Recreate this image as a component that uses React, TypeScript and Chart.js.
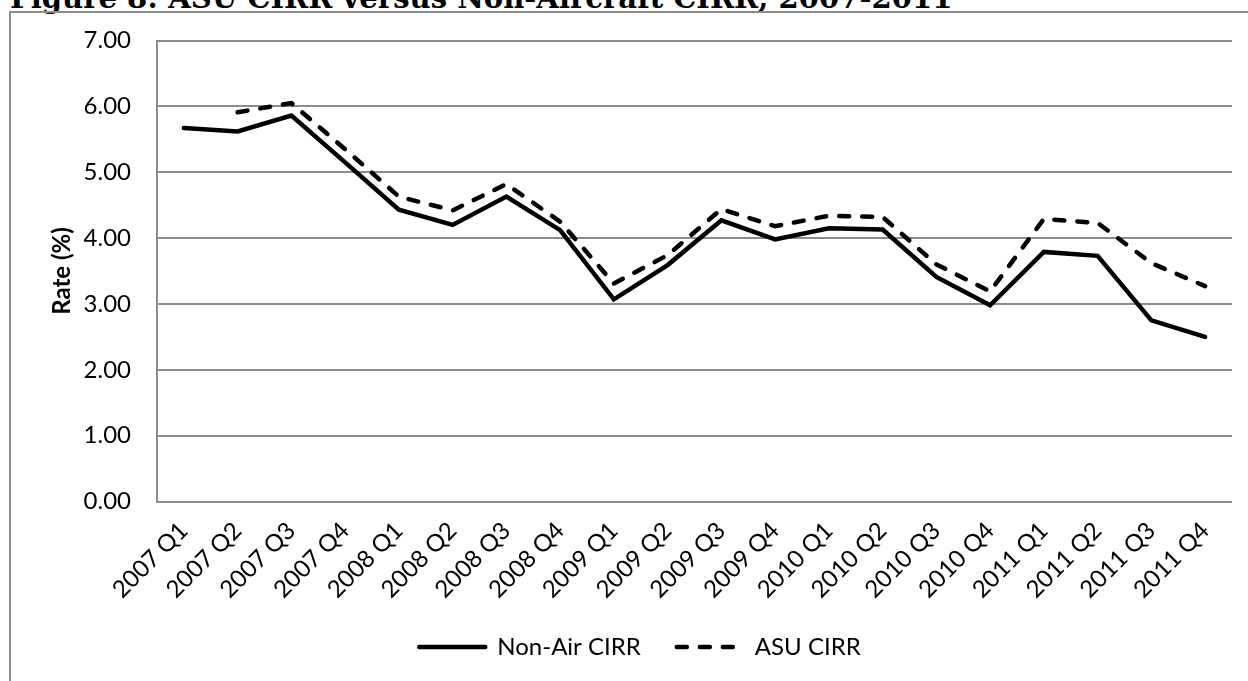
import React, { useEffect, useRef } from 'react';
import { Chart, registerables } from 'chart.js';

Chart.register(...registerables);

const figureTitle = 'Figure 8: ASU CIRR versus Non-Aircraft CIRR, 2007-2011';
const yAxisTitle = 'Rate (%)';
const seriesNames = ['Non-Air CIRR', 'ASU CIRR'];

const categories = [
  '2007 Q1', '2007 Q2', '2007 Q3', '2007 Q4',
  '2008 Q1', '2008 Q2', '2008 Q3', '2008 Q4',
  '2009 Q1', '2009 Q2', '2009 Q3', '2009 Q4',
  '2010 Q1', '2010 Q2', '2010 Q3', '2010 Q4',
  '2011 Q1', '2011 Q2', '2011 Q3', '2011 Q4',
];

const nonAirCIRR = [
  5.67, 5.62, 5.86, 5.15,
  4.43, 4.20, 4.63, 4.12,
  3.07, 3.59, 4.27, 3.98,
  4.15, 4.13, 3.41, 2.98,
  3.79, 3.73, 2.75, 2.50,
];

const asuCIRR = [
  null, 5.91, 6.05, 5.35,
  4.63, 4.42, 4.82, 4.25,
  3.31, 3.74, 4.44, 4.18,
  4.34, 4.32, 3.60, 3.19,
  4.29, 4.23, 3.62, 3.27,
];

const yMin = 0;
const yMax = 7;
const yStep = 1;

const FONT = 'Lato';
const GRID = '#8c8c8c';
const LINE_W = 4.5;
const DASH = [10, 13];

export default function App() {
  const canvasRef = useRef<HTMLCanvasElement>(null);
  const titleRef = useRef<HTMLDivElement>(null);

  useEffect(() => {
    const t = titleRef.current;
    if (t) {
      const c = document.createElement('canvas').getContext('2d');
      if (c) {
        c.font = 'bold 100px "DejaVu Serif"';
        const w = c.measureText(figureTitle).width;
        const size = (100 * 943) / w;
        t.style.fontSize = size + 'px';
        t.style.top = 9 - 0.846 * size + 'px';
      }
    }

    const tickFont = { family: FONT, size: 24 };
    const chart = new Chart(canvasRef.current as HTMLCanvasElement, {
      type: 'line',
      data: {
        labels: categories,
        datasets: [
          {
            label: seriesNames[0],
            data: nonAirCIRR,
            borderColor: '#000',
            backgroundColor: '#000',
            borderWidth: LINE_W,
            borderCapStyle: 'round',
            borderJoinStyle: 'miter',
            pointRadius: 0,
            tension: 0,
            fill: false,
          },
          {
            label: seriesNames[1],
            data: asuCIRR,
            borderColor: '#000',
            backgroundColor: '#000',
            borderWidth: LINE_W,
            borderDash: DASH,
            borderCapStyle: 'round',
            borderJoinStyle: 'miter',
            pointRadius: 0,
            tension: 0,
            fill: false,
          },
        ],
      },
      options: {
        responsive: false,
        animation: false,
        events: [],
        layout: { padding: { left: 0, right: 16, top: 40.5, bottom: 12 } },
        plugins: {
          legend: {
            position: 'bottom',
            labels: {
              usePointStyle: true,
              pointStyle: 'line',
              pointStyleWidth: 66,
              font: tickFont,
              color: '#000',
              padding: 36,
              generateLabels: (ch: any) => {
                const items = (Chart as any).defaults.plugins.legend.labels.generateLabels(ch);
                items.forEach((it: any) => {
                  const ds = ch.data.datasets[it.datasetIndex];
                  it.lineDash = ds.borderDash || [];
                  it.lineDashOffset = 0;
                  it.lineWidth = LINE_W;
                  it.lineCap = 'round';
                  it.strokeStyle = '#000';
                  it.fillStyle = '#000';
                  it.pointStyle = 'line';
                });
                return items;
              },
            },
          },
          tooltip: { enabled: false },
          title: { display: false },
        },
        scales: {
          x: {
            offset: true,
            grid: { display: false, drawTicks: false },
            border: { display: false },
            ticks: {
              autoSkip: false,
              maxRotation: 45,
              minRotation: 45,
              font: tickFont,
              color: '#000',
              padding: 15,
            },
            afterFit: (s: any) => {
              s.height = 97.5;
            },
          },
          y: {
            min: yMin,
            max: yMax,
            ticks: {
              stepSize: yStep,
              font: tickFont,
              color: '#000',
              padding: 26,
              callback: (v: any) => Number(v).toFixed(2),
            },
            grid: { color: GRID, lineWidth: 2, drawTicks: false },
            border: { display: true, color: GRID, width: 2 },
            title: {
              display: true,
              text: yAxisTitle,
              color: '#000',
              font: { family: FONT, size: 24, weight: 'bold' },
              padding: { top: 0, bottom: 0 },
            },
            afterFit: (s: any) => {
              s.width = 109;
            },
          },
        },
      },
    } as any);
    return () => chart.destroy();
  }, []);

  return (
    <div
      style={{
        position: 'fixed',
        left: 0,
        top: 0,
        width: 1248,
        height: 681,
        overflow: 'hidden',
        background: '#fff',
      }}
    >
      <div
        ref={titleRef}
        style={{
          position: 'absolute',
          left: 10,
          top: -12,
          whiteSpace: 'nowrap',
          fontFamily: '"DejaVu Serif", serif',
          fontWeight: 'bold',
          fontSize: 25,
          lineHeight: 1,
          color: '#000',
        }}
      >
        {figureTitle}
      </div>
      <div
        style={{
          position: 'absolute',
          left: 9,
          top: 11,
          width: 1400,
          height: 900,
          border: `2px solid ${GRID}`,
          boxSizing: 'border-box',
        }}
      />
      <div style={{ position: 'absolute', left: 48, top: 0, width: 1200, height: 681 }}>
        <canvas ref={canvasRef} width={1200} height={681} style={{ display: 'block' }} />
      </div>
    </div>
  );
}
